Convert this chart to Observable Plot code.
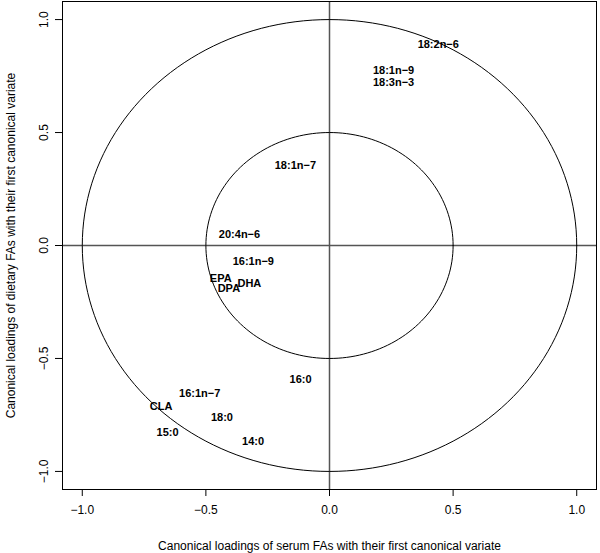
<!DOCTYPE html>
<html><head><meta charset="utf-8">
<script src="https://cdn.jsdelivr.net/npm/d3@7"></script>
<script src="https://cdn.jsdelivr.net/npm/@observablehq/plot@0.6"></script>
<style>body{margin:0;background:#fff}</style>
</head><body><div id="chart"></div>
<script>
const labels = ["18:2n−6","18:1n−9","18:3n−3","18:1n−7","20:4n−6","16:1n−9","EPA","DPA","DHA","16:0","16:1n−7","CLA","18:0","15:0","14:0"];
const xs = [0.44, 0.259, 0.259, -0.138, -0.364, -0.308, -0.44, -0.407, -0.324, -0.117, -0.525, -0.681, -0.435, -0.655, -0.309];
const ys = [0.892, 0.775, 0.72, 0.356, 0.05, -0.072, -0.148, -0.19, -0.168, -0.592, -0.656, -0.711, -0.762, -0.827, -0.867];
const tickValues = [-1, -0.5, 0, 0.5, 1];
const radii = [1, 0.5];

const data = labels.map((l, i) => ({label: l, x: xs[i], y: ys[i]}));
const angles = d3.range(0, 361, 2);
const circles = radii.flatMap(r => angles.map(a => ({r, x: r * Math.cos(a * Math.PI / 180), y: r * Math.sin(a * Math.PI / 180)})));
const fmt = d3.format(".1f");

const chart = Plot.plot({
  width: 600, height: 553,
  marginLeft: 62, marginRight: 4, marginTop: 1, marginBottom: 64,
  style: {fontFamily: "'Liberation Sans', Arial, sans-serif", fontSize: "12px", background: "#fff", color: "#000"},
  x: {domain: [-1.08, 1.08]},
  y: {domain: [-1.08, 1.08]},
  marks: [
    Plot.ruleX([0], {stroke: "#555", strokeWidth: 1.5}),
    Plot.ruleY([0], {stroke: "#555", strokeWidth: 1.5}),
    Plot.line(circles, {x: "x", y: "y", z: "r", stroke: "#000", strokeWidth: 1}),
    Plot.text(data, {x: "x", y: "y", text: "label", fontWeight: "bold", fontSize: 11, fill: "#000"}),
    Plot.frame({stroke: "#000"}),
    Plot.axisX({ticks: tickValues, tickFormat: fmt, tickSize: 7, tickPadding: 9, fontSize: 12,
      label: "Canonical loadings of serum FAs with their first canonical variate", labelAnchor: "center", labelArrow: "none", labelOffset: 60}),
    Plot.axisY({ticks: tickValues, tickFormat: fmt, tickSize: 7, tickPadding: 8, tickRotate: -90, fontSize: 12,
      label: "Canonical loadings of dietary FAs with their first canonical variate", labelAnchor: "center", labelArrow: "none", labelOffset: 56})
  ]
});
document.getElementById("chart").appendChild(chart);
</script></body></html>
